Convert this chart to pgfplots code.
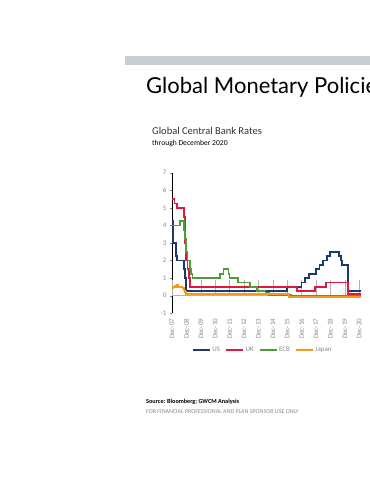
\documentclass[border=0pt]{standalone}
\usepackage{pgfplots}
\pgfplotsset{compat=1.18}
\usepackage{fontspec}
\setmainfont{Carlito}
\newfontfamily\titlefont{Lato}
\definecolor{usblue}{HTML}{1B3A6B}
\definecolor{ukred}{HTML}{E2173D}
\definecolor{ecbgreen}{HTML}{4F9A3A}
\definecolor{jpor}{HTML}{F39B1B}
\definecolor{bargrey}{HTML}{C9CED4}
\definecolor{ticklab}{HTML}{8A8A8A}
\begin{document}
\begin{tikzpicture}
\clip (0pt,0pt) rectangle (370pt,480pt);
\fill[white] (0pt,0pt) rectangle (370pt,480pt);
\fill[bargrey] (125pt,415pt) rectangle (370pt,424pt);
\node[anchor=base west, inner sep=0, font=\titlefont\fontsize{22}{26}\selectfont] at (146pt,386.5pt) {Global Monetary Policies};
\node[anchor=base west, inner sep=0, font=\fontsize{10.5}{12}\selectfont, text=black!80] at (152pt,345pt) {Global Central Bank Rates};
\node[anchor=base west, inner sep=0, font=\fontsize{7.6}{8}\selectfont] at (152pt,334.5pt) {through December 2020};
\node[anchor=base west, inner sep=0, font=\bfseries\fontsize{6.2}{7}\selectfont] at (146pt,76pt) {Source: Bloomberg; GWCM Analysis};
\node[anchor=base west, inner sep=0, font=\fontsize{6}{7}\selectfont, text=ticklab] at (146pt,66pt) {FOR FINANCIAL PROFESSIONAL AND PLAN SPONSOR USE ONLY};
\begin{axis}[
  at={(172pt,166.7pt)}, anchor=south west,
  scale only axis, width=188.6pt, height=140.6pt,
  xmin=0, xmax=13.1, ymin=-1, ymax=7,
  axis y line*=left, axis x line*=bottom,
  x axis line style={draw=none},
  y axis line style={black, line width=0.6pt, -},
  xtick={0,...,13},
  xticklabels={Dec-07,Dec-08,Dec-09,Dec-10,Dec-11,Dec-12,Dec-13,Dec-14,Dec-15,Dec-16,Dec-17,Dec-18,Dec-19,Dec-20},
  x tick label style={rotate=90, anchor=east},
  major x tick style={draw=none},
  ytick={-1,0,...,7},
  tick align=outside, major tick length=2pt,
  /pgf/number format/assume math mode=true,
  tick label style={font=\fontsize{7}{8}\selectfont, text=ticklab},
  clip=false,
  legend style={at={(0.48,-0.261)}, anchor=center, draw=none, fill=none,
    legend columns=4, font=\fontsize{7}{8}\selectfont, text=ticklab,
    nodes={inner sep=1.2pt},
    /tikz/every even column/.append style={column sep=4pt}},
  legend image code/.code={\draw[#1, line width=2pt] (0,0) -- (17pt,0);},
]
\draw[gray!60, line width=0.8pt] (axis cs:0,0) -- (axis cs:13.1,0);
\pgfplotsinvokeforeach{0,...,13}{\draw[gray!60, line width=0.5pt] (axis cs:#1,0) -- ++(0,-2pt);}
\addplot[const plot, usblue, line width=1.8pt] coordinates {
(0,4.25) (0.083,3.0) (0.25,2.25) (0.333,2.0) (0.833,1.5) (0.9,1.0) (0.96,0.25)
(8.0,0.5) (9.0,0.75) (9.25,1.0) (9.5,1.25) (10.0,1.5) (10.25,1.75) (10.5,2.0)
(10.75,2.25) (11.0,2.5) (11.58,2.25) (11.75,2.0) (11.83,1.75) (12.25,0.25) (13.1,0.25)};
\addlegendentry{US}
\addplot[const plot, ukred, line width=1.8pt] coordinates {
(0,5.5) (0.17,5.25) (0.33,5.0) (0.83,4.5) (0.92,3.0) (1.0,2.0) (1.08,1.5) (1.17,1.0)
(1.25,0.5) (8.67,0.25) (9.92,0.5) (10.67,0.75) (12.25,0.1) (13.1,0.1)};
\addlegendentry{UK}
\addplot[const plot, ecbgreen, line width=1.8pt] coordinates {
(0,4.0) (0.58,4.25) (0.83,3.75) (0.92,3.25) (1.0,2.5) (1.08,2.0) (1.25,1.5) (1.33,1.25)
(1.42,1.0) (3.33,1.25) (3.58,1.5) (3.92,1.25) (4.0,1.0) (4.58,0.75) (5.42,0.5)
(5.92,0.25) (6.5,0.15) (6.75,0.05) (8.25,0.0) (13.1,0.0)};
\addlegendentry{ECB}
\addplot[const plot, jpor, line width=1.8pt] coordinates {
(0,0.45) (0.08,0.5) (0.17,0.55) (0.25,0.48) (0.33,0.6) (0.42,0.5) (0.5,0.52) (0.58,0.5)
(0.67,0.47) (0.75,0.45) (0.83,0.3) (0.92,0.2) (1.0,0.1) (8.1,-0.05) (13.1,-0.05)};
\addlegendentry{Japan}
\end{axis}
\end{tikzpicture}
\end{document}
